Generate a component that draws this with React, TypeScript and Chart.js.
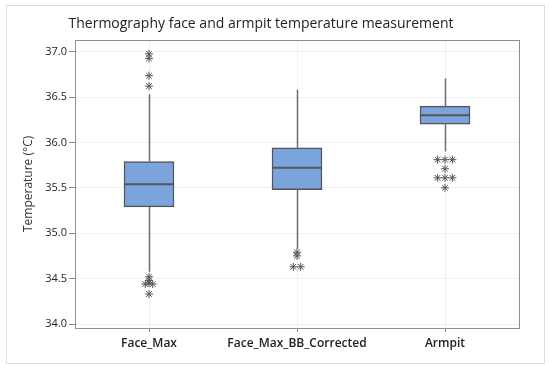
import React, { useEffect, useRef } from 'react';
import { Chart, registerables } from 'chart.js';
Chart.register(...registerables);

const categories = ['Face_Max', 'Face_Max_BB_Corrected', 'Armpit'];
const whiskerLow = [34.575, 34.83, 35.9];
const q1 = [35.29, 35.48, 36.2];
const medians = [35.54, 35.72, 36.3];
const q3 = [35.79, 35.94, 36.4];
const whiskerHigh = [36.53, 36.58, 36.705];
const faceMaxOutliers = [36.975, 36.925, 36.735, 36.62, 34.52, 34.48, 34.45, 34.44, 34.44, 34.33];
const faceMaxBBOutliers = [34.79, 34.75, 34.63, 34.63];
const armpitOutliers = [35.81, 35.81, 35.81, 35.71, 35.61, 35.61, 35.61, 35.5];
const outliersByCategory = [faceMaxOutliers, faceMaxBBOutliers, armpitOutliers];
const yTickValues = [34.0, 34.5, 35.0, 35.5, 36.0, 36.5, 37.0];
const yMin = 33.956;
const yMax = 37.13;

const FONT = "'Open Sans', 'Noto Sans', sans-serif";

function outlierPoints() {
  const pts: { x: number; y: number }[] = [];
  outliersByCategory.forEach((vals, ci) => {
    const counts = new Map<number, number>();
    vals.forEach((v) => counts.set(v, (counts.get(v) || 0) + 1));
    const seen = new Map<number, number>();
    vals.forEach((v) => {
      const n = counts.get(v) || 1;
      const k = seen.get(v) || 0;
      seen.set(v, k + 1);
      pts.push({ x: ci + (k - (n - 1) / 2) * 0.05, y: v });
    });
  });
  return pts;
}

const boxPlugin = {
  id: 'boxExtras',
  beforeDatasetsDraw(chart: any) {
    const { ctx, scales } = chart;
    const x = scales.x;
    const y = scales.y;
    ctx.save();
    ctx.strokeStyle = '#6e6e6e';
    ctx.lineWidth = 1.5;
    categories.forEach((_c, i) => {
      const px = Math.round(x.getPixelForValue(i)) + 0.5;
      ctx.beginPath();
      ctx.moveTo(px, y.getPixelForValue(whiskerLow[i]));
      ctx.lineTo(px, y.getPixelForValue(q1[i]));
      ctx.moveTo(px, y.getPixelForValue(q3[i]));
      ctx.lineTo(px, y.getPixelForValue(whiskerHigh[i]));
      ctx.stroke();
    });
    ctx.restore();
  },
  afterDatasetsDraw(chart: any) {
    const { ctx, scales } = chart;
    const y = scales.y;
    const meta = chart.getDatasetMeta(0);
    ctx.save();
    ctx.strokeStyle = '#555555';
    ctx.lineWidth = 2;
    categories.forEach((_c, i) => {
      const el = meta.data[i];
      if (!el) return;
      const py = y.getPixelForValue(medians[i]);
      ctx.beginPath();
      ctx.moveTo(el.x - el.width / 2, py);
      ctx.lineTo(el.x + el.width / 2, py);
      ctx.stroke();
    });
    ctx.restore();
  },
  afterDraw(chart: any) {
    const { ctx, chartArea } = chart;
    ctx.save();
    ctx.strokeStyle = '#8f8f8f';
    ctx.lineWidth = 1;
    ctx.strokeRect(
      Math.round(chartArea.left) + 0.5,
      Math.round(chartArea.top) + 0.5,
      Math.round(chartArea.right - chartArea.left),
      Math.round(chartArea.bottom - chartArea.top)
    );
    ctx.restore();
  },
};

export default function App() {
  const canvasRef = useRef<HTMLCanvasElement | null>(null);

  useEffect(() => {
    if (!canvasRef.current) return;
    const chart = new Chart(canvasRef.current, {
      type: 'bar',
      data: {
        datasets: [
          {
            type: 'bar',
            data: categories.map((_c, i) => ({ x: i, y: [q1[i], q3[i]] })) as any,
            backgroundColor: '#7ba4dc',
            borderColor: '#555555',
            borderWidth: 1.5,
            borderSkipped: false,
            barThickness: 50,
            grouped: false,
          } as any,
          {
            type: 'scatter',
            data: outlierPoints(),
            pointStyle: 'star',
            pointRadius: 4,
            borderColor: '#555555',
            backgroundColor: '#555555',
            borderWidth: 1,
          } as any,
        ],
      },
      options: {
        responsive: false,
        maintainAspectRatio: false,
        animation: false,
        layout: { padding: { left: 3, right: 31, top: 0, bottom: 0 } },
        plugins: {
          legend: { display: false },
          tooltip: { enabled: false },
          title: {
            display: true,
            text: 'Thermography face and armpit temperature measurement',
            color: '#222222',
            font: { family: FONT, size: 14, weight: 'normal' },
            padding: { top: 16, bottom: 7 },
          },
        },
        scales: {
          x: {
            type: 'linear',
            min: -0.5,
            max: 2.5,
            offset: false,
            afterBuildTicks: (s: any) => {
              s.ticks = categories.map((_c, i) => ({ value: i }));
            },
            grid: { color: '#f0f0f0', tickColor: '#888888', tickLength: 4, offset: false },
            border: { display: false },
            ticks: {
              callback: (v: any) => categories[Math.round(Number(v))] ?? '',
              font: { family: FONT, size: 12, weight: 600 },
              color: '#222222',
              padding: 4,
              maxRotation: 0,
              minRotation: 0,
              autoSkip: false,
            },
            afterFit: (s: any) => {
              s.height = 44;
            },
          },
          y: {
            type: 'linear',
            min: yMin,
            max: yMax,
            afterBuildTicks: (s: any) => {
              s.ticks = yTickValues.map((v) => ({ value: v }));
            },
            ticks: {
              callback: (v: any) => Number(v).toFixed(1),
              font: { family: FONT, size: 11 },
              color: '#222222',
              padding: 2,
            },
            grid: { color: '#f0f0f0', tickColor: '#888888', tickLength: 6 },
            border: { display: false },
            title: {
              display: true,
              text: 'Temperature (°C)',
              color: '#333333',
              font: { family: FONT, size: 12 },
              padding: { top: 18, bottom: 0 },
            },
            afterFit: (s: any) => {
              s.width = 72;
            },
          },
        },
      } as any,
      plugins: [boxPlugin],
    });
    return () => chart.destroy();
  }, []);

  return (
    <div style={{ position: 'absolute', left: 0, top: 0, width: 550, height: 372, background: '#ffffff' }}>
      <div
        style={{
          position: 'absolute',
          left: 6,
          top: 5,
          width: 539,
          height: 359,
          boxSizing: 'border-box',
          border: '1px solid #dddddd',
        }}
      />
      <canvas ref={canvasRef} width={550} height={372} style={{ position: 'absolute', left: 0, top: 0 }} />
    </div>
  );
}
